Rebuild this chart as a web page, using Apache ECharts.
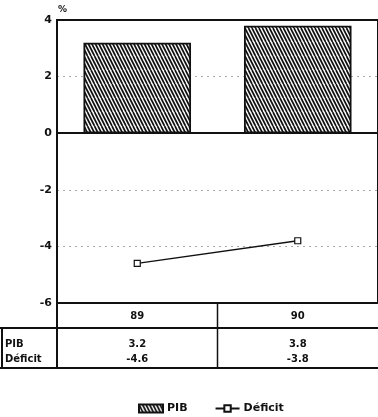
<!DOCTYPE html>
<html>
<head>
<meta charset="utf-8">
<script src="https://cdn.jsdelivr.net/npm/echarts@6/dist/echarts.min.js"></script>
<style>
html, body { margin: 0; padding: 0; background: #fff; }
#chart { width: 378px; height: 417px; }
</style>
</head>
<body>
<div id="chart"></div>
<script>
// Años, crecimiento del PIB y déficit (% del PIB)
const years = ['89', '90'];
const pib = [3.2, 3.8];
const deficit = [-4.6, -3.8];
const rowLabels = ['PIB', 'Déficit'];
const legendNames = ['PIB', 'Déficit'];

const FONT = '"DejaVu Sans", Verdana, sans-serif';

// Steep diagonal hatch fill for the bars
function makeHatch() {
  const c = document.createElement('canvas');
  const w = 7, h = 14;
  c.width = w; c.height = h;
  const g = c.getContext('2d');
  g.fillStyle = '#fff';
  g.fillRect(0, 0, w, h);
  g.strokeStyle = '#111';
  g.lineWidth = 1.7;
  for (let k = -4; k <= 4; k++) {
    const x = k * 3.5;
    g.beginPath();
    g.moveTo(x, 0);
    g.lineTo(x + w, h);
    g.stroke();
  }
  return c;
}
const hatch = { image: makeHatch(), repeat: 'repeat' };

const chart = echarts.init(document.getElementById('chart'));

const textBase = { fontFamily: FONT, fontWeight: 'bold', fontSize: 11, color: '#111' };

chart.setOption({
  animation: false,
  backgroundColor: '#fff',
  grid: {
    left: 57, top: 20, right: -3, bottom: 114,
    show: true, borderColor: '#111', borderWidth: 2, backgroundColor: 'transparent'
  },
  legend: {
    top: 403,
    left: 138,
    padding: 0,
    itemWidth: 24,
    itemHeight: 8,
    itemGap: 27,
    textStyle: Object.assign({}, textBase, { fontSize: 11, padding: [0, 0, 0, -1] }),
    data: [
      { name: legendNames[0], icon: 'rect' },
      { name: legendNames[1] }
    ]
  },
  xAxis: [
    {
      type: 'category',
      data: years,
      position: 'bottom',
      axisLine: { lineStyle: { color: '#111', width: 2 } },
      axisTick: { show: true, inside: true, alignWithLabel: true, length: 4, lineStyle: { color: '#111', width: 1.5 } },
      axisLabel: Object.assign({ margin: 8 }, textBase, { fontSize: 10 }),
      splitLine: { show: false }
    },
    {
      type: 'category',
      data: years,
      position: 'bottom',
      offset: 30,
      axisLine: { show: false },
      axisTick: { show: false },
      axisLabel: Object.assign({
        margin: 4,
        lineHeight: 15,
        formatter: function (v, i) {
          return pib[i].toFixed(1) + '\n' + deficit[i].toFixed(1);
        }
      }, textBase, { fontSize: 10 })
    }
  ],
  yAxis: {
    type: 'value',
    min: -6, max: 4, interval: 2,
    name: '%',
    nameLocation: 'end',
    nameGap: 6,
    nameTextStyle: Object.assign({}, textBase, { align: 'left', padding: [0, 0, 0, 1], fontSize: 9 }),
    axisLine: { show: true, lineStyle: { color: '#111', width: 2 } },
    axisTick: { show: false },
    axisLabel: Object.assign({ margin: 5 }, textBase),
    splitLine: {
      show: true,
      showMinLine: false,
      showMaxLine: false,
      lineStyle: { color: '#aaa', width: 1, type: [2, 4] }
    }
  },
  series: [
    {
      name: legendNames[0],
      type: 'bar',
      data: pib,
      barWidth: '67%',
      xAxisIndex: 0,
      itemStyle: { color: hatch, borderColor: '#111', borderWidth: 1.8 },
      markLine: {
        silent: true,
        symbol: 'none',
        label: { show: false },
        lineStyle: { color: '#111', width: 2, type: 'solid' },
        data: [{ yAxis: 0 }]
      },
      z: 3
    },
    {
      name: legendNames[1],
      type: 'line',
      data: deficit,
      xAxisIndex: 0,
      symbol: 'rect',
      symbolSize: 6,
      lineStyle: { color: '#111', width: 1.5 },
      itemStyle: { color: '#fff', borderColor: '#111', borderWidth: 1.2 },
      z: 4
    }
  ]
});

// Table rules and row captions below the axis, placed from the grid geometry
function drawTable() {
  const p0 = chart.convertToPixel({ xAxisIndex: 0, yAxisIndex: 0 }, [0, -6]);
  const p1 = chart.convertToPixel({ xAxisIndex: 0, yAxisIndex: 0 }, [1, -6]);
  const axisX = p0[0] - (p1[0] - p0[0]) / 2;
  const baseY = p0[1];
  const divX = (p0[0] + p1[0]) / 2;
  const rowTop = baseY + 25;
  const rowBottom = baseY + 65;
  const W = 378;
  const line = (x1, y1, x2, y2, w) => ({
    type: 'line', silent: true,
    shape: { x1, y1, x2, y2 },
    style: { stroke: '#111', lineWidth: w || 1.5 }
  });
  const label = (txt, y) => ({
    type: 'text', silent: true,
    style: {
      text: txt, x: 5, y: y,
      font: 'bold 10px ' + FONT, fill: '#111', verticalAlign: 'middle'
    }
  });
  chart.setOption({
    graphic: [
      line(0, rowTop, W, rowTop, 2),
      line(0, rowBottom, W, rowBottom, 2),
      line(2, rowTop, 2, rowBottom, 2),
      line(axisX, baseY, axisX, rowBottom, 2),
      line(divX, baseY, divX, rowBottom, 1.5),
      label(rowLabels[0], rowTop + 16),
      label(rowLabels[1], rowTop + 31)
    ]
  });
}
drawTable();
</script>
</body>
</html>
